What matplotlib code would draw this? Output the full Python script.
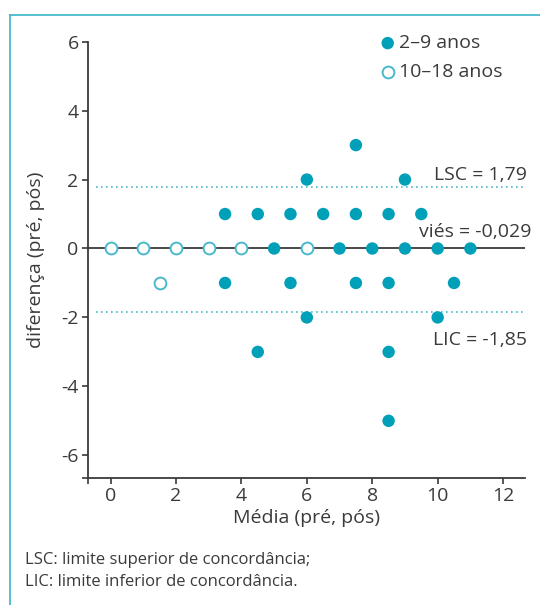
import matplotlib
matplotlib.use("Agg")
import matplotlib.pyplot as plt
from matplotlib.lines import Line2D

plt.rcParams['font.family'] = ['Open Sans', 'DejaVu Sans']
plt.rcParams['axes.unicode_minus'] = False

# 2-9 anos (filled) and 10-18 anos (open): média vs diferença
media_2a9 = [7.5, 6, 9,
             3.5, 4.5, 5.5, 6.5, 7.5, 8.5, 9.5,
             5, 7, 8, 9, 10, 11,
             3.5, 5.5, 7.5, 8.5, 10.5,
             6, 10,
             4.5, 8.5,
             8.5]
dif_2a9 = [3, 2, 2,
           1, 1, 1, 1, 1, 1, 1,
           0, 0, 0, 0, 0, 0,
           -1, -1, -1, -1, -1,
           -2, -2,
           -3, -3,
           -5]
media_10a18 = [0, 1, 2, 3, 4, 6, 1.5]
dif_10a18 = [0, 0, 0, 0, 0, 0, -1]

lsc = 1.79
lic = -1.85
vies = -0.029

xticks = [0, 2, 4, 6, 8, 10, 12]
yticks = [-6, -4, -2, 0, 2, 4, 6]

teal = '#00a0b8'
teal_light = '#49b9cb'
dark = '#3a3a3a'

W, H = 540, 605
fig = plt.figure(figsize=(W / 100, H / 100), dpi=100)
ax = fig.add_axes([87.7 / W, 1 - 477.7 / H, (525 - 87.7) / W, (477.7 - 41.7) / H])

xlo, xhi = -0.70, 12.67
ylo, yhi = -6.65, 6.0
ax.set_xlim(xlo, xhi)
ax.set_ylim(ylo, yhi)

# reference lines
ax.axhline(0, color=dark, lw=1.3, zorder=1)
ax.axhline(lsc, xmin=0.02, color=teal_light, lw=1.2, ls=(0, (1, 2)), zorder=1)
ax.axhline(lic, xmin=0.02, color=teal_light, lw=1.2, ls=(0, (1, 2)), zorder=1)

ax.scatter(media_2a9, dif_2a9, s=80, color=teal, edgecolors='none', zorder=3,
           label='2–9 anos')
ax.scatter(media_10a18, dif_10a18, s=72, facecolors='white', edgecolors=teal_light,
           linewidths=1.4, zorder=3, label='10–18 anos')

ax.text(12.73, lsc + 0.08, 'LSC = 1,79', ha='right', va='bottom', fontsize=14,
        color=dark, clip_on=False)
ax.text(12.85, 0.48, 'viés = -0,029', ha='right', va='center', fontsize=14,
        color=dark, clip_on=False)
ax.text(12.73, -2.66, 'LIC = -1,85', ha='right', va='center', fontsize=14,
        color=dark, clip_on=False)

for side in ['top', 'right']:
    ax.spines[side].set_visible(False)
for side in ['left', 'bottom']:
    ax.spines[side].set_color(dark)
    ax.spines[side].set_linewidth(1.3)

ax.set_xticks(xticks)
ax.set_yticks(yticks)
ax.set_yticklabels([str(v) for v in yticks])
ax.set_xticks([xlo], minor=True)
ax.set_yticks([ylo], minor=True)
ax.tick_params(which='both', direction='out', length=4.5, width=1.2, color=dark,
               labelsize=14, labelcolor=dark, pad=2)

ax.set_xlabel('Média (pré, pós)', fontsize=14, color=dark, labelpad=3)
ax.set_ylabel('diferença (pré, pós)', fontsize=14, color=dark, labelpad=12)

leg = ax.legend(loc='upper left', bbox_to_anchor=(0.646, 1.035), frameon=False,
                fontsize=14, handlelength=1.0, handletextpad=0.1, labelspacing=0.55,
                borderaxespad=0, labelcolor=dark)

fig.text(25 / W, 1 - 560 / H, 'LSC: limite superior de concordância;', fontsize=12,
         color=dark, va='center')
fig.text(25 / W, 1 - 582 / H, 'LIC: limite inferior de concordância.', fontsize=12,
         color=dark, va='center')

# frame: top and left edges only
fig.add_artist(Line2D([10 / W, 1], [1 - 14.5 / H, 1 - 14.5 / H], color=teal_light, lw=1.3))
fig.add_artist(Line2D([10 / W, 10 / W], [0, 1 - 14.5 / H], color=teal_light, lw=1.3))

fig.savefig('out.png', dpi=100)
